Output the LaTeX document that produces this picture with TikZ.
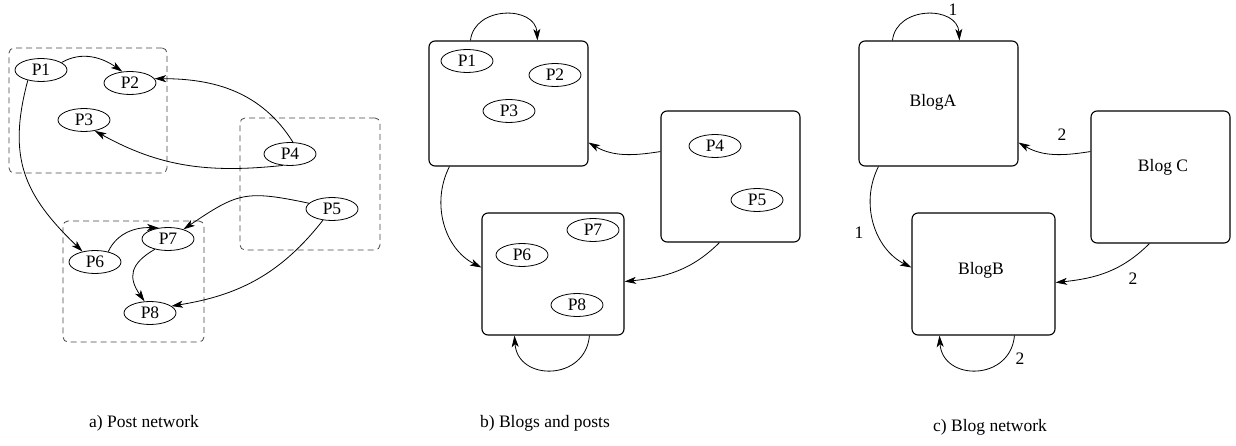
\documentclass[tikz,border=0pt]{standalone}
\usepackage{fontspec}
\setmainfont{Liberation Serif}
\usetikzlibrary{arrows.meta,shapes.geometric}

\begin{document}
\begin{tikzpicture}[x=1pt,y=1pt,
  post/.style={ellipse,draw,line width=0.8pt,minimum width=52pt,minimum height=23pt,
               inner sep=0pt,font=\fontsize{17.5}{18}\selectfont},
  grp/.style={draw=black!72,dash pattern=on 6pt off 4pt,line width=0.8pt,
              rounded corners=5pt,inner sep=0pt},
  blog/.style={draw,line width=1.1pt,rounded corners=6pt,inner sep=0pt},
  link/.style={line width=0.8pt,-{Stealth[length=11.5pt,width=7pt,inset=3pt]}},
  txt/.style={font=\fontsize{17.5}{18}\selectfont,inner sep=0pt},
]
\useasboundingbox (0,0) rectangle (1236,445);

% ---------- a) post network ----------
\node[grp,minimum width=158pt,minimum height=125pt] (g1) at (88,334.5) {};
\node[grp,minimum width=140pt,minimum height=132pt] (g2) at (310,261) {};
\node[grp,minimum width=141pt,minimum height=121pt] (g3) at (133.5,163.5) {};

\node[post] (a1) at (41,375) {P1};
\node[post] (a2) at (130,362) {P2};
\node[post] (a3) at (84,325) {P3};
\node[post] (a4) at (290,291) {P4};
\node[post] (a5) at (332,236) {P5};
\node[post] (a6) at (95,183) {P6};
\node[post] (a7) at (168,206) {P7};
\node[post] (a8) at (150,132) {P8};

\draw[link] (a1.20) to[out=30,in=145] (a2.124);
\draw[link] (a4.76) to[out=122,in=0] (a2.10);
\draw[link] (a4.238) to[out=186,in=-29] (a3.-45);
\draw[link] (a1.-142) to[out=-105,in=136,looseness=1.15] (a6.140);
\draw[link] (a6.38) to[out=65,in=178] (a7.130);
\draw[link] (a7.-142) to[out=-150,in=125,looseness=1.4] (a8.115);
\draw[link] (a5.166) to[out=168,in=34,looseness=1.3] (a7.32);
\draw[link] (a5.-129) to[out=-128,in=9] (a8.18);

\node[txt] (capa) at (144,22) {a) Post network};

% ---------- b) blogs and posts ----------
\node[blog,minimum width=159pt,minimum height=125pt] (bA) at (508.5,341.5) {};
\node[blog,minimum width=139pt,minimum height=131pt] (bC) at (730.5,268.5) {};
\node[blog,minimum width=142pt,minimum height=122pt] (bB) at (553,171) {};

\node[post] (b1) at (467,384) {P1};
\node[post] (b2) at (555,370) {P2};
\node[post] (b3) at (509,334) {P3};
\node[post] (b4) at (715,299) {P4};
\node[post] (b5) at (757,245) {P5};
\node[post] (b6) at (522,190) {P6};
\node[post] (b7) at (593,215) {P7};
\node[post] (b8) at (577,140) {P8};

\draw[link] ([xshift=42pt]bA.north west) .. controls +(4,35) and +(-2,35) .. ([xshift=109pt]bA.north west);
\draw[link] ([yshift=91pt]bC.south west) to[out=189,in=-30] ([yshift=24pt]bA.south east);
\draw[link] ([xshift=21pt]bA.south west) to[out=-117,in=153] ([yshift=68pt]bB.south west);
\draw[link] ([xshift=59pt]bC.south west) to[out=-135,in=6] ([yshift=54pt]bB.south east);
\draw[link] ([xshift=108pt]bB.south west) .. controls +(-4,-46) and +(3,-46) .. ([xshift=33pt]bB.south west);

\node[txt] (capb) at (545,22) {b) Blogs and posts};

% ---------- c) blog network ----------
\node[blog,minimum width=159pt,minimum height=125pt] (cA) at (938.5,341.5) {};
\node[blog,minimum width=139pt,minimum height=132pt] (cC) at (1160.5,268) {};
\node[blog,minimum width=143pt,minimum height=122pt] (cB) at (983.5,171) {};

\node[txt] (tA) at (933,343) {BlogA};
\node[txt] (tC) at (1163,278) {Blog C};
\node[txt] (tB) at (981,175) {BlogB};

\draw[link] ([xshift=34pt]cA.north west) .. controls +(4,35) and +(-2,35) .. ([xshift=101pt]cA.north west);
\draw[link] ([yshift=92pt]cC.south west) to[out=189,in=-30] ([yshift=24pt]cA.south east);
\draw[link] ([xshift=20pt]cA.south west) to[out=-117,in=153] ([yshift=68pt]cB.south west);
\draw[link] ([xshift=59pt]cC.south west) to[out=-135,in=6] ([yshift=53pt]cB.south east);
\draw[link] ([xshift=103pt]cB.south west) .. controls +(-4,-46) and +(3,-46) .. ([xshift=28pt]cB.south west);

\node[txt] (w1) at (953,435) {1};
\node[txt] (w2) at (1062,310) {2};
\node[txt] (w3) at (859,212) {1};
\node[txt] (w4) at (1133,166) {2};
\node[txt] (w5) at (1020,86) {2};

\node[txt] (capc) at (990,18) {c) Blog network};
\end{tikzpicture}
\end{document}
